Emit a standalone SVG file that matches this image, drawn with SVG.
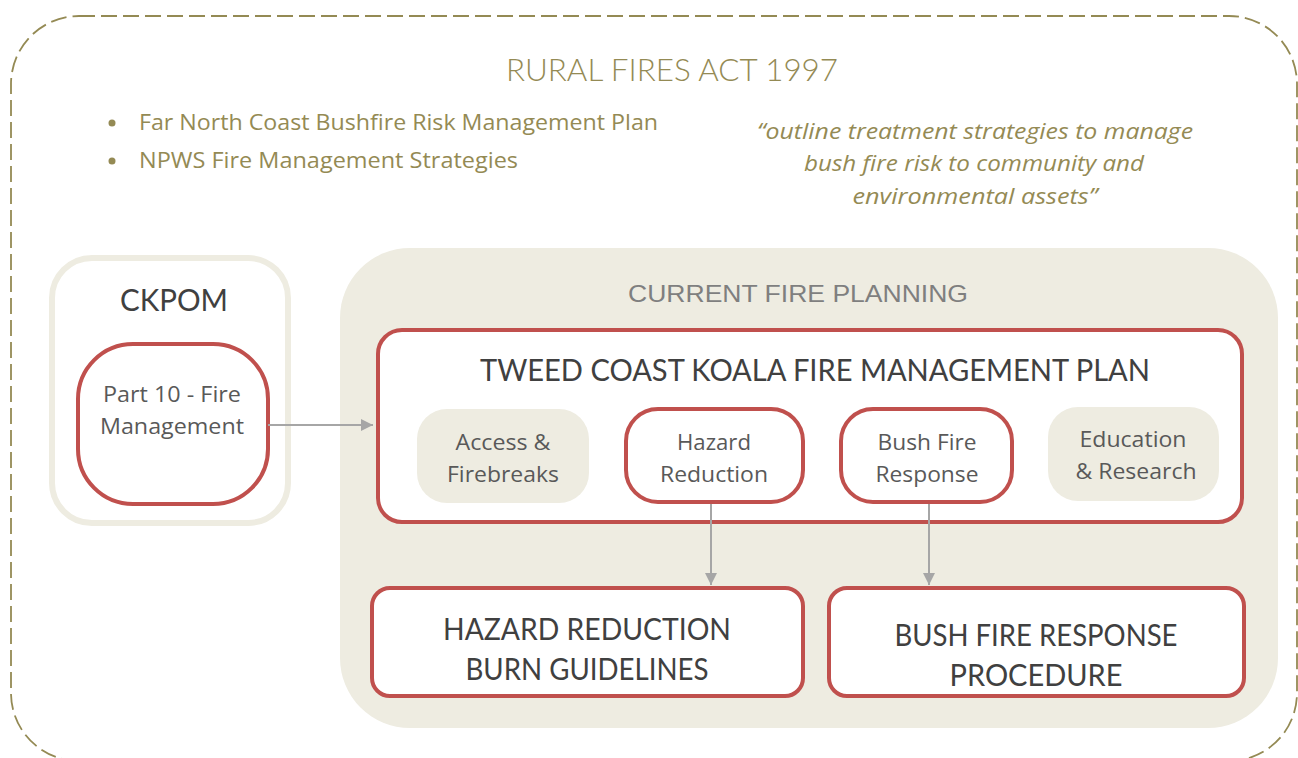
<svg xmlns="http://www.w3.org/2000/svg" width="1298" height="758" viewBox="0 0 1298 758">
<style>
.olive{fill:#948A54;font-family:"Open Sans","Noto Sans",sans-serif;font-size:21px}
.quote{fill:#948A54;font-family:"Open Sans","Noto Sans",sans-serif;font-size:21px;font-style:italic;text-anchor:middle}
.gothic{font-family:Lato,"Liberation Sans",sans-serif;font-weight:400;text-anchor:middle}
.light{font-weight:300}
.calib{fill:#595959;font-family:"Open Sans","Noto Sans",sans-serif;font-size:21px;text-anchor:middle}
.redbox{fill:#FFFFFF;stroke:#C0504D;stroke-width:4}
.beige{fill:#EEECE1}
.conn{stroke:#A6A6A6;stroke-width:2;fill:none}
</style>
<defs>
<marker id="arr" viewBox="0 0 12 12" refX="12" refY="6" markerWidth="12" markerHeight="12" markerUnits="userSpaceOnUse" orient="auto">
<path d="M0,0 L12,6 L0,12 Z" fill="#A6A6A6"/>
</marker>
</defs>
<rect width="1298" height="758" fill="#FFFFFF"/>

<g id="rural-fires-act">
<rect x="11" y="16" width="1286" height="745" rx="68" ry="68" fill="none" stroke="#948A54" stroke-width="1.8" stroke-dasharray="16 6"/>
<text x="672" y="81" class="gothic light" fill="#948A54" font-size="32" textLength="332" lengthAdjust="spacingAndGlyphs">RURAL FIRES ACT 1997</text>
<circle cx="112" cy="123" r="3.5" fill="#948A54"/>
<circle cx="112" cy="161" r="3.5" fill="#948A54"/>
<text x="139" y="130" class="olive" textLength="519" lengthAdjust="spacingAndGlyphs">Far North Coast Bushfire Risk Management Plan</text>
<text x="139" y="168" class="olive" textLength="379" lengthAdjust="spacingAndGlyphs">NPWS Fire Management Strategies</text>
<text x="975" y="139" class="quote" textLength="436" lengthAdjust="spacingAndGlyphs">“outline treatment strategies to manage</text>
<text x="974" y="171" class="quote" textLength="340" lengthAdjust="spacingAndGlyphs">bush fire risk to community and</text>
<text x="975" y="204" class="quote" textLength="245" lengthAdjust="spacingAndGlyphs">environmental assets”</text>
</g>

<g id="ckpom">
<rect x="52" y="258" width="236" height="265" rx="40" ry="40" fill="#FFFFFF" stroke="#EEECE1" stroke-width="6"/>
<text x="174" y="311" class="gothic" fill="#404040" font-size="30" textLength="108" lengthAdjust="spacingAndGlyphs">CKPOM</text>
</g>

<g id="part10">
<rect x="78" y="344" width="190" height="160" rx="55" ry="55" class="redbox"/>
<text x="172" y="402" class="calib" textLength="138" lengthAdjust="spacingAndGlyphs">Part 10 - Fire</text>
<text x="172" y="434" class="calib" textLength="144" lengthAdjust="spacingAndGlyphs">Management</text>
</g>

<g id="current-fire-planning">
<rect x="340" y="248" width="938" height="480" rx="70" ry="70" class="beige"/>
<text x="798" y="302" font-family="'Liberation Sans',Arial,sans-serif" font-size="24" fill="#7F7F7F" text-anchor="middle" textLength="340" lengthAdjust="spacingAndGlyphs">CURRENT FIRE PLANNING</text>
</g>

<g id="tweed-plan">
<rect x="378" y="330" width="864" height="192" rx="24" ry="24" class="redbox"/>
<text x="815" y="381" class="gothic" fill="#404040" font-size="30" textLength="670" lengthAdjust="spacingAndGlyphs">TWEED COAST KOALA FIRE MANAGEMENT PLAN</text>
</g>

<g id="access-firebreaks">
<rect x="417" y="409" width="172" height="94" rx="30" ry="30" class="beige"/>
<text x="503" y="450" class="calib" textLength="95" lengthAdjust="spacingAndGlyphs">Access &amp;</text>
<text x="503" y="482" class="calib" textLength="112" lengthAdjust="spacingAndGlyphs">Firebreaks</text>
</g>

<g id="hazard-reduction">
<rect x="626" y="409" width="177" height="93" rx="32" ry="32" class="redbox" stroke-width="3.5"/>
<text x="714" y="450" class="calib" textLength="74" lengthAdjust="spacingAndGlyphs">Hazard</text>
<text x="714" y="482" class="calib" textLength="108" lengthAdjust="spacingAndGlyphs">Reduction</text>
</g>

<g id="bush-fire-response">
<rect x="841" y="409" width="171" height="93" rx="32" ry="32" class="redbox" stroke-width="3.5"/>
<text x="927" y="450" class="calib" textLength="99" lengthAdjust="spacingAndGlyphs">Bush Fire</text>
<text x="927" y="482" class="calib" textLength="103" lengthAdjust="spacingAndGlyphs">Response</text>
</g>

<g id="education-research">
<rect x="1048" y="407" width="171" height="94" rx="30" ry="30" class="beige"/>
<text x="1133" y="447" class="calib" textLength="107" lengthAdjust="spacingAndGlyphs">Education</text>
<text x="1136" y="479" class="calib" textLength="121" lengthAdjust="spacingAndGlyphs">&amp; Research</text>
</g>

<g id="hazard-guidelines">
<rect x="372" y="588" width="431" height="108" rx="18" ry="18" class="redbox"/>
<text x="587" y="640" class="gothic" fill="#404040" font-size="30" textLength="288" lengthAdjust="spacingAndGlyphs">HAZARD REDUCTION</text>
<text x="587" y="680" class="gothic" fill="#404040" font-size="30" textLength="243" lengthAdjust="spacingAndGlyphs">BURN GUIDELINES</text>
</g>

<g id="bush-fire-procedure">
<rect x="829" y="588" width="415" height="108" rx="18" ry="18" class="redbox"/>
<text x="1036" y="646" class="gothic" fill="#404040" font-size="30" textLength="283" lengthAdjust="spacingAndGlyphs">BUSH FIRE RESPONSE</text>
<text x="1036" y="686" class="gothic" fill="#404040" font-size="30" textLength="173" lengthAdjust="spacingAndGlyphs">PROCEDURE</text>
</g>

<g id="connectors">
<line x1="268" y1="425" x2="373" y2="425" class="conn" marker-end="url(#arr)"/>
<line x1="711" y1="504" x2="711" y2="585" class="conn" marker-end="url(#arr)"/>
<line x1="929" y1="504" x2="929" y2="585" class="conn" marker-end="url(#arr)"/>
</g>
</svg>
